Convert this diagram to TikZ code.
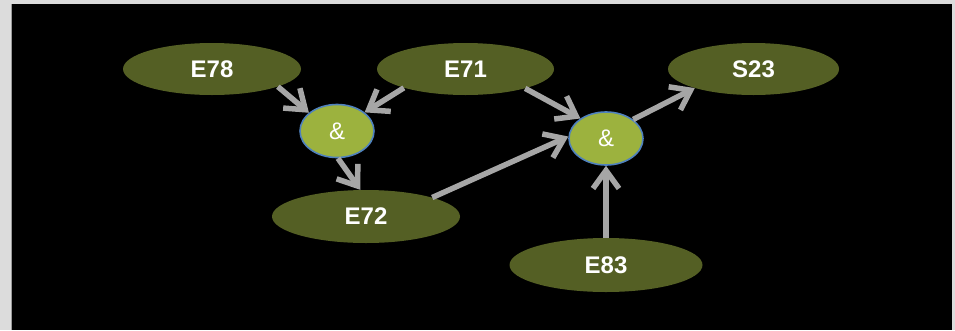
\documentclass[tikz,border=0pt]{standalone}
\usepackage{fontspec}
\setmainfont{Liberation Sans}
\usetikzlibrary{shapes.geometric,arrows.meta}
\definecolor{pagegray}{HTML}{DCDCDC}
\definecolor{edgegray}{HTML}{9A9A9A}
\definecolor{olivedark}{HTML}{545F24}
\definecolor{olivelight}{HTML}{9CB23E}
\definecolor{ringblue}{HTML}{4F81BD}
\definecolor{linkgray}{HTML}{A6A6A6}
\tikzset{
  event/.style={ellipse, fill=olivedark, inner sep=0pt, text=white,
    font=\fontsize{24}{28}\selectfont\bfseries},
  gate/.style={ellipse, fill=olivelight, draw=ringblue, line width=1.6pt,
    inner sep=0pt, text=white, minimum width=74pt, minimum height=53pt,
    font=\fontsize{24}{28}\selectfont},
  link/.style={draw=linkgray, line width=5.5pt,
    -{Straight Barb[length=18pt,width=26pt]}},
}
\begin{document}
\begin{tikzpicture}[x=1pt,y=-1pt]
  % page and dark panel
  \fill[pagegray] (0,0) rectangle (955,330);
  \fill[edgegray] (10.5,4) rectangle (12.5,330);
  \fill[black] (12,4) rectangle (952,330);
  \useasboundingbox (0,0) rectangle (955,330);

  % events
  \node[event, minimum width=178pt, minimum height=52pt] (e78) at (212,69) {E78};
  \node[event, minimum width=177pt, minimum height=52pt] (e71) at (465.5,69) {E71};
  \node[event, minimum width=171pt, minimum height=52pt] (s23) at (753.5,69) {S23};
  \node[event, minimum width=188pt, minimum height=53pt] (e72) at (366,216.5) {E72};
  \node[event, minimum width=193pt, minimum height=54pt] (e83) at (606,265) {E83};

  % AND gates
  \node[gate] (andl) at (337,131) {\&};
  \node[gate] (andr) at (606,138.5) {\&};

  % connectors
  \draw[link] (e78.-15.5) -- (andl.147);
  \draw[link] (e71.-163) -- (andl.34);
  \draw[link] (andl.-88) -- (e72.102);
  \draw[link] (e71.-18) -- (andr.142);
  \draw[link] (e72.16) -- (andr.177);
  \draw[link] (e83.90) -- (andr.-90);
  \draw[link] (andr.35) -- (s23.-162);
\end{tikzpicture}
\end{document}
